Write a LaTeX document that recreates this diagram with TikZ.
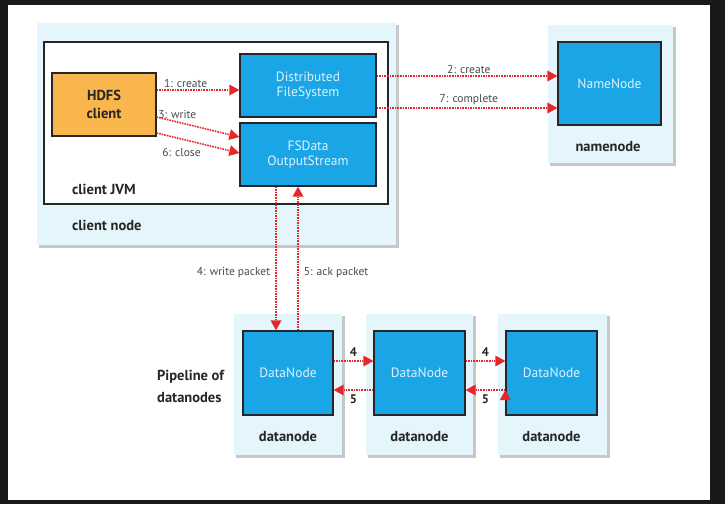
\documentclass[tikz,border=0pt]{standalone}
\usepackage{fontspec}
\setmainfont{PT Sans}
\usetikzlibrary{arrows.meta,backgrounds}
\definecolor{panelbg}{HTML}{E4F6FC}
\definecolor{boxblue}{HTML}{1AA6E6}
\definecolor{boxorange}{HTML}{F8B64C}
\definecolor{linkred}{HTML}{E5262B}
\definecolor{lblgray}{HTML}{4A4A4A}
\definecolor{txtdark}{HTML}{262626}
\definecolor{txtlight}{HTML}{DDF2FF}
\begin{document}
\begin{tikzpicture}
  [x=1pt,y=-1pt,
   panel/.style={rectangle,fill=panelbg,draw=none,inner sep=0pt},
   shade/.style={fill=black!22},
   bluebox/.style={rectangle,fill=boxblue,draw=black!85,line width=1.3pt,inner sep=0pt,
     align=center,text=txtlight,font=\fontsize{13.5}{15}\selectfont},
   bold/.style={font=\fontsize{14.5}{16}\selectfont\bfseries,text=txtdark,inner sep=0pt,align=left},
   lbl/.style={font=\fontsize{11.5}{13}\selectfont,text=lblgray,inner sep=2pt},
   num/.style={font=\fontsize{12.5}{14}\selectfont\bfseries,text=txtdark,inner sep=2pt},
   link/.style={draw=linkred,line width=1.6pt,densely dotted,
     -{Triangle[length=10pt,width=11pt,fill=linkred,line width=0pt]}}]

  % client side
  \node[panel,minimum width=359pt,minimum height=222pt] (clientnode) at (216.5,134) {};
  \node[rectangle,fill=white,draw=black!85,line width=1.2pt,minimum width=344pt,minimum height=162pt] (jvm) at (216,123) {};
  \node[rectangle,fill=boxorange,draw=black!85,line width=1.3pt,minimum width=104pt,minimum height=63pt,
    align=center,font=\fontsize{14.5}{18}\selectfont\bfseries,text=txtdark] (hdfs) at (104,104.5) {HDFS\\client};
  \node[bluebox,minimum width=136pt,minimum height=63pt] (dfs) at (308,85.5) {Distributed\\FileSystem};
  \node[bluebox,minimum width=136pt,minimum height=63pt] (fsdata) at (308,154.5) {FSData\\OutputStream};
  \node[bold,anchor=west] (jvmlbl) at (72,189) {client JVM};
  \node[bold,anchor=west] (clientlbl) at (72,225) {client node};

  % namenode
  \node[panel,minimum width=125pt,minimum height=138pt] (nnpanel) at (610.5,94) {};
  \node[bluebox,minimum width=103pt,minimum height=83pt] (nn) at (609.5,83.5) {NameNode};
  \node[bold] (nnlbl) at (608,147) {namenode};

  % datanodes
  \node[panel,minimum width=108pt,minimum height=141pt] (dnpanel1) at (288,384.5) {};
  \node[panel,minimum width=107pt,minimum height=141pt] (dnpanel2) at (419.5,384.5) {};
  \node[panel,minimum width=109pt,minimum height=141pt] (dnpanel3) at (552.5,384.5) {};
  \node[bluebox,minimum width=90pt,minimum height=84pt] (dn1) at (288,373) {DataNode};
  \node[bluebox,minimum width=91pt,minimum height=84pt] (dn2) at (419.5,373) {DataNode};
  \node[bluebox,minimum width=91pt,minimum height=84pt] (dn3) at (551.5,373) {DataNode};
  \node[bold] (dnlbl1) at (288,437) {datanode};
  \node[bold] (dnlbl2) at (419.5,437) {datanode};
  \node[bold] (dnlbl3) at (551.5,437) {datanode};
  \node[bold,anchor=west,font=\fontsize{14.5}{22}\selectfont\bfseries] (pipe) at (157,386) {Pipeline of\\datanodes};

  \path[link]
    ([yshift=14.5pt]hdfs.east) edge node[lbl,pos=0.35,above] {1: create} ([yshift=-4.5pt]dfs.west)
    ([yshift=-12.5pt]hdfs.east) edge node[lbl,pos=0.25,above=1pt] {3: write} ([yshift=17.5pt]fsdata.west)
    ([yshift=-28.5pt]hdfs.east) edge node[lbl,pos=0.3,below=7pt] {6: close} ([yshift=1.5pt]fsdata.west)
    ([yshift=9.5pt]dfs.east) edge node[lbl,pos=0.51,above] {2: create} ([yshift=7.5pt]nn.west)
    ([yshift=-22.5pt]dfs.east) edge node[lbl,pos=0.51,above] {7: complete} ([yshift=-24.5pt]nn.west)
    ([xshift=-32pt]fsdata.south) edge node[lbl,pos=0.6,left=3pt] {4: write packet} ([xshift=-12pt]dn1.north)
    ([xshift=10pt]dn1.north) edge node[lbl,pos=0.4,right=3pt] {5: ack packet} ([xshift=-10pt]fsdata.south)
    ([yshift=12pt]dn1.east) edge node[num,above=2pt] {4} ([yshift=12pt]dn2.west)
    ([yshift=-17pt]dn2.west) edge node[num,below=2pt] {5} ([yshift=-17pt]dn1.east)
    ([yshift=12pt]dn2.east) edge node[num,above=2pt] {4} ([yshift=12pt]dn3.west)
    ([yshift=-17pt]dn3.west) edge node[num,below=2pt] {5} ([yshift=-17pt]dn2.east);

  % frame and panel shadows
  \begin{scope}[on background layer]
    \fill[black!90] (0,0) rectangle (725,504);
    \fill[white] (8,5) rectangle (710,500);
    \foreach \p in {clientnode,nnpanel,dnpanel1,dnpanel2,dnpanel3}
      \fill[shade] ([shift={(2.5,2.5)}]\p.south west) rectangle ([shift={(2.5,2.5)}]\p.north east);
  \end{scope}

\end{tikzpicture}
\end{document}
